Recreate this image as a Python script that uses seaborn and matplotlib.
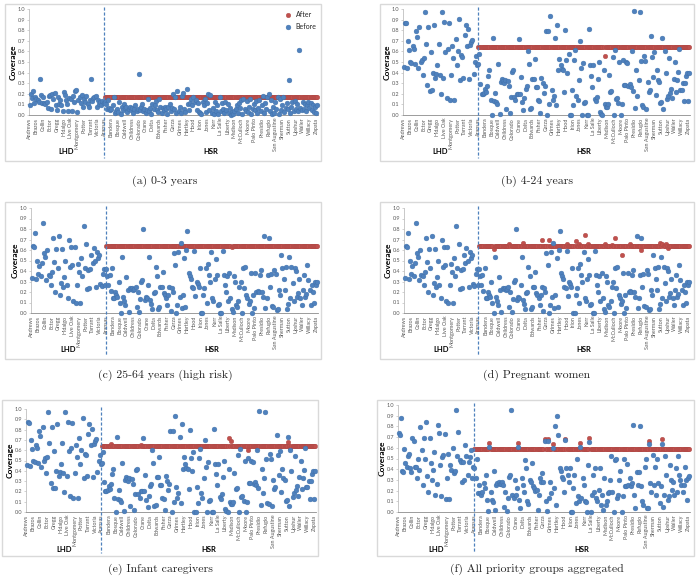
import numpy as np
import matplotlib
matplotlib.use("Agg")
import matplotlib.pyplot as plt
from matplotlib.patches import Rectangle
import seaborn as sns

# county axis: 66 LHD counties followed by 188 HSR counties, a label every 6th county
lhd_labels = ["Andrews", "Brazos", "Collin", "Ector", "Gregg", "Hidalgo", "Live Oak",
              "Montgomery", "Potter", "Tarrant", "Victoria"]
hsr_labels = ["Aransas", "Bandera", "Bosque", "Caldwell", "Childress", "Colorado", "Crane",
              "Delta", "Edwards", "Fisher", "Garza", "Grimes", "Hartley", "Hood", "Irion",
              "Jones", "Kerr", "La Salle", "Liberty", "Madison", "McCulloch", "Moore",
              "Palo Pinto", "Presidio", "Refugio", "San Augustine", "Sherman", "Sutton",
              "Upshur", "Waller", "Willacy", "Zapata"]
n_lhd = 66
n_hsr = 188

# --- coverage before reallocation ---
before_a_lhd = [0.09, 0.20, 0.16, 0.23, 0.11, 0.17, 0.15, 0.14, 0.12, 0.34, 0.19, 0.11,
                0.17, 0.11, 0.10, 0.12, 0.07, 0.18, 0.19, 0.06, 0.20, 0.15, 0.21, 0.09,
                0.05, 0.17, 0.10, 0.14, 0.09, 0.04, 0.22, 0.19, 0.14, 0.10, 0.04, 0.16,
                0.15, 0.04, 0.18, 0.12, 0.23, 0.24, 0.03, 0.14, 0.17, 0.11, 0.19, 0.08,
                0.15, 0.12, 0.18, 0.10, 0.08, 0.14, 0.34, 0.13, 0.16, 0.17, 0.18, 0.08,
                0.14, 0.10, 0.12, 0.09, 0.13, 0.11]
before_a_hsr = [0.12, 0.10, 0.06, 0.14, 0.07, 0.05, 0.06, 0.09, 0.17, 0.02, 0.04, 0.06,
                0.03, 0.12, 0.01, 0.08, 0.05, 0.10, 0.07, 0.08, 0.03, 0.06, 0.08, 0.05,
                0.07, 0.02, 0.06, 0.09, 0.04, 0.06, 0.39, 0.05, 0.08, 0.10, 0.04, 0.06,
                0.02, 0.05, 0.15, 0.04, 0.07, 0.01, 0.10, 0.06, 0.09, 0.13, 0.05, 0.03,
                0.15, 0.08, 0.02, 0.07, 0.05, 0.08, 0.06, 0.01, 0.08, 0.10, 0.04, 0.07,
                0.20, 0.06, 0.17, 0.02, 0.23, 0.04, 0.08, 0.02, 0.18, 0.21, 0.06, 0.03,
                0.25, 0.10, 0.05, 0.11, 0.15, 0.09, 0.17, 0.12, 0.14, 0.05, 0.11, 0.03,
                0.02, 0.01, 0.12, 0.09, 0.15, 0.03, 0.11, 0.20, 0.05, 0.19, 0.02, 0.07,
                0.01, 0.12, 0.04, 0.09, 0.01, 0.17, 0.04, 0.11, 0.06, 0.02, 0.12, 0.05,
                0.10, 0.02, 0.07, 0.00, 0.03, 0.01, 0.04, 0.06, 0.09, 0.02, 0.11, 0.07,
                0.14, 0.01, 0.15, 0.06, 0.04, 0.13, 0.03, 0.08, 0.15, 0.01, 0.06, 0.10,
                0.05, 0.13, 0.02, 0.07, 0.14, 0.04, 0.09, 0.18, 0.02, 0.11, 0.06, 0.17,
                0.20, 0.04, 0.14, 0.01, 0.08, 0.02, 0.12, 0.06, 0.17, 0.01, 0.15, 0.05,
                0.09, 0.17, 0.03, 0.07, 0.11, 0.06, 0.33, 0.02, 0.08, 0.12, 0.04, 0.13,
                0.06, 0.10, 0.04, 0.61, 0.07, 0.05, 0.12, 0.06, 0.10, 0.04, 0.09, 0.12,
                0.07, 0.11, 0.05, 0.09, 0.03, 0.08, 0.02, 0.09]

before_b_lhd = [0.455, 0.87, 0.865, 0.445, 0.70, 0.61, 0.50, 0.49, 0.65, 0.62, 0.48, 0.79,
                0.74, 0.44, 0.83, 0.50, 0.52, 0.38, 0.535, 0.97, 0.67, 0.28, 0.83, 0.23,
                0.59, 0.235, 0.40, 0.85, 0.35, 0.39, 0.47, 0.67, 0.38, 0.195, 0.97, 0.35,
                0.875, 0.59, 0.16, 0.62, 0.865, 0.14, 0.38, 0.65, 0.535, 0.14, 0.72, 0.47,
                0.60, 0.91, 0.33, 0.565, 0.55, 0.345, 0.755, 0.85, 0.65, 0.81, 0.34, 0.66,
                0.69, 0.71, 0.385, 0.50, 0.555, 0.47]
before_b_hsr = [0.48, 0.58, 0.29, 0.20, 0.20, 0.21, 0.25, 0.22, 0.27, 0.37, 0.42, 0.14,
                0.00, 0.73, 0.13, 0.21, 0.12, 0.10, 0.48, 0.01, 0.31, 0.34, 0.32, 0.30,
                0.33, 0.06, 0.32, 0.27, 0.02, 0.17, 0.41, 0.42, 0.17, 0.14, 0.20, 0.20,
                0.72, 0.20, 0.36, 0.12, 0.05, 0.16, 0.25, 0.27, 0.60, 0.48, 0.06, 0.07,
                0.34, 0.34, 0.53, 0.26, 0.26, 0.14, 0.13, 0.02, 0.35, 0.30, 0.21, 0.27,
                0.79, 0.00, 0.79, 0.10, 0.93, 0.24, 0.14, 0.18, 0.73, 0.09, 0.85, 0.42,
                0.53, 0.47, 0.43, 0.42, 0.22, 0.80, 0.52, 0.40, 0.58, 0.00, 0.00, 0.24,
                0.09, 0.52, 0.61, 0.18, 0.14, 0.33, 0.70, 0.44, 0.00, 0.49, 0.11, 0.12,
                0.00, 0.00, 0.81, 0.47, 0.37, 0.26, 0.47, 0.15, 0.13, 0.17, 0.34, 0.50,
                0.03, 0.01, 0.00, 0.42, 0.10, 0.08, 0.08, 0.10, 0.38, 0.22, 0.23, 0.55,
                0.00, 0.61, 0.15, 0.16, 0.11, 0.50, 0.00, 0.10, 0.52, 0.28, 0.28, 0.50,
                0.49, 0.27, 0.29, 0.26, 0.60, 0.23, 0.98, 0.07, 0.42, 0.18, 0.33, 0.97,
                0.51, 0.09, 0.08, 0.56, 0.51, 0.06, 0.31, 0.22, 0.24, 0.75, 0.55, 0.36,
                0.59, 0.19, 0.42, 0.33, 0.31, 0.11, 0.12, 0.73, 0.06, 0.60, 0.40, 0.15,
                0.18, 0.54, 0.21, 0.25, 0.16, 0.34, 0.50, 0.22, 0.33, 0.41, 0.62, 0.24,
                0.24, 0.30, 0.13, 0.30, 0.37, 0.40, 0.13, 0.40]

before_c_lhd = [0.33, 0.64, 0.63, 0.76, 0.32, 0.50, 0.37, 0.45, 0.35, 0.48, 0.86, 0.57,
                0.53, 0.31, 0.60, 0.36, 0.35, 0.27, 0.39, 0.71, 0.49, 0.20, 0.61, 0.43,
                0.73, 0.17, 0.29, 0.61, 0.25, 0.34, 0.50, 0.27, 0.14, 0.70, 0.44, 0.63,
                0.46, 0.11, 0.63, 0.10, 0.27, 0.47, 0.39, 0.10, 0.52, 0.35, 0.83, 0.43,
                0.66, 0.23, 0.41, 0.24, 0.42, 0.55, 0.48, 0.62, 0.50, 0.25, 0.58, 0.52,
                0.55, 0.28, 0.26, 0.37, 0.42, 0.27]
before_c_hsr = [0.42, 0.35, 0.27, 0.36, 0.21, 0.43, 0.14, 0.14, 0.20, 0.17, 0.15, 0.30,
                0.10, 0.00, 0.53, 0.15, 0.11, 0.08, 0.34, 0.22, 0.01, 0.24, 0.23, 0.24,
                0.22, 0.23, 0.25, 0.06, 0.20, 0.01, 0.13, 0.30, 0.31, 0.80, 0.12, 0.15,
                0.14, 0.27, 0.53, 0.12, 0.09, 0.04, 0.19, 0.20, 0.44, 0.35, 0.04, 0.06,
                0.25, 0.25, 0.39, 0.19, 0.17, 0.14, 0.08, 0.17, 0.25, 0.02, 0.24, 0.20,
                0.57, 0.46, 0.00, 0.08, 0.58, 0.15, 0.67, 0.05, 0.17, 0.52, 0.06, 0.60,
                0.78, 0.38, 0.35, 0.32, 0.25, 0.24, 0.59, 0.16, 0.30, 0.28, 0.25, 0.43,
                0.00, 0.00, 0.17, 0.24, 0.43, 0.10, 0.47, 0.36, 0.30, 0.58, 0.14, 0.11,
                0.32, 0.51, 0.36, 0.08, 0.09, 0.00, 0.00, 0.59, 0.36, 0.27, 0.20, 0.35,
                0.11, 0.38, 0.14, 0.04, 0.01, 0.35, 0.30, 0.08, 0.06, 0.11, 0.25, 0.30,
                0.00, 0.43, 0.24, 0.44, 0.17, 0.14, 0.09, 0.11, 0.38, 0.00, 0.17, 0.05,
                0.38, 0.20, 0.21, 0.20, 0.36, 0.41, 0.20, 0.15, 0.73, 0.05, 0.14, 0.36,
                0.71, 0.25, 0.37, 0.07, 0.06, 0.41, 0.37, 0.03, 0.04, 0.22, 0.17, 0.55,
                0.43, 0.32, 0.22, 0.44, 0.04, 0.09, 0.53, 0.14, 0.44, 0.29, 0.11, 0.43,
                0.40, 0.15, 0.19, 0.32, 0.14, 0.08, 0.22, 0.36, 0.15, 0.18, 0.46, 0.31,
                0.22, 0.08, 0.27, 0.20, 0.10, 0.30, 0.27, 0.30]

before_f_lhd = [0.735, 0.715, 0.875, 0.38, 0.37, 0.59, 0.455, 0.425, 0.52, 0.54, 0.415, 0.37,
                0.69, 0.66, 0.425, 0.425, 0.32, 0.50, 0.395, 0.79, 0.58, 0.255, 0.69, 0.50,
                0.845, 0.34, 0.19, 0.69, 0.455, 0.30, 0.395, 0.565, 0.16, 0.26, 0.81, 0.735,
                0.44, 0.145, 0.51, 0.535, 0.73, 0.12, 0.32, 0.54, 0.12, 0.44, 0.395, 0.60,
                0.36, 0.385, 0.955, 0.52, 0.75, 0.49, 0.47, 0.285, 0.47, 0.30, 0.63, 0.52,
                0.35, 0.47, 0.51, 0.58, 0.32, 0.425]
before_f_hsr = [0.41, 0.32, 0.50, 0.18, 0.255, 0.18, 0.16, 0.19, 0.27, 0.22, 0.35, 0.115,
                0.005, 0.61, 0.185, 0.115, 0.095, 0.38, 0.02, 0.255, 0.27, 0.285, 0.26, 0.26,
                0.28, 0.255, 0.05, 0.19, 0.01, 0.135, 0.33, 0.35, 0.955, 0.16, 0.13, 0.30,
                0.16, 0.22, 0.61, 0.115, 0.04, 0.32, 0.255, 0.19, 0.49, 0.41, 0.10, 0.075,
                0.30, 0.28, 0.46, 0.24, 0.22, 0.20, 0.21, 0.02, 0.16, 0.32, 0.285, 0.36,
                0.285, 0.66, 0.10, 0.005, 0.66, 0.13, 0.28, 0.18, 0.60, 0.22, 0.80, 0.07,
                0.90, 0.72, 0.415, 0.38, 0.33, 0.31, 0.19, 0.67, 0.415, 0.35, 0.285, 0.41,
                0.00, 0.00, 0.22, 0.35, 0.085, 0.50, 0.145, 0.10, 0.61, 0.13, 0.32, 0.255,
                0.10, 0.095, 0.00, 0.44, 0.65, 0.00, 0.16, 0.35, 0.19, 0.41, 0.13, 0.10,
                0.21, 0.41, 0.07, 0.16, 0.02, 0.32, 0.07, 0.10, 0.18, 0.19, 0.30, 0.52,
                0.19, 0.00, 0.49, 0.50, 0.13, 0.16, 0.30, 0.38, 0.00, 0.145, 0.50, 0.24,
                0.24, 0.45, 0.255, 0.32, 0.24, 0.27, 0.81, 0.16, 0.04, 0.37, 0.255, 0.37,
                0.805, 0.24, 0.105, 0.07, 0.425, 0.50, 0.04, 0.04, 0.64, 0.27, 0.19, 0.535,
                0.255, 0.425, 0.16, 0.50, 0.27, 0.085, 0.24, 0.635, 0.05, 0.16, 0.52, 0.35,
                0.115, 0.145, 0.44, 0.30, 0.21, 0.285, 0.16, 0.41, 0.19, 0.52, 0.35, 0.30,
                0.25, 0.19, 0.25, 0.42, 0.30, 0.11, 0.32, 0.34]

# --- coverage after reallocation (HSR counties): common level + counties off that level ---
after_level = {"a": 0.167, "b": 0.645, "c": 0.64, "d": 0.64, "e": 0.645, "f": 0.59}
after_dev = {
    "a": {},
    "b": {178: 0.555},
    "c": {177: 0.625},
    "d": {79: 0.605, 93: 0.655, 105: 0.665, 122: 0.70, 128: 0.70, 144: 0.66, 152: 0.69,
          155: 0.66, 160: 0.745, 163: 0.655, 178: 0.655, 184: 0.65, 187: 0.715,
          193: 0.555, 200: 0.655, 210: 0.60, 227: 0.665, 229: 0.66, 232: 0.655, 234: 0.62},
    "e": {74: 0.66, 100: 0.655, 177: 0.715, 179: 0.685, 194: 0.60, 229: 0.675, 231: 0.62},
    "f": {79: 0.645, 104: 0.645, 127: 0.685, 130: 0.685, 134: 0.64, 145: 0.685,
          158: 0.645, 166: 0.69, 218: 0.665, 229: 0.68},
}

captions = {"a": "(a) 0-3 years", "b": "(b) 4-24 years", "c": "(c) 25-64 years (high risk)",
            "d": "(d) Pregnant women", "e": "(e) Infant caregivers",
            "f": "(f) All priority groups aggregated"}
before = {"a": (before_a_lhd, before_a_hsr), "b": (before_b_lhd, before_b_hsr),
          "c": (before_c_lhd, before_c_hsr), "d": (before_c_lhd, before_c_hsr),
          "e": (before_b_lhd, before_b_hsr), "f": (before_f_lhd, before_f_hsr)}

# pixel geometry: chart box, plot area, caption centre
W, H = 700, 585
layout = {
    "a": ((5, 4, 321, 161), (29, 9, 318, 115), (165, 181)),
    "b": ((380, 4, 694, 161), (403, 9, 690, 115), (537, 181)),
    "c": ((5, 202, 321, 359), (31, 208, 318, 313), (165, 375)),
    "d": ((380, 202, 694, 359), (404, 208, 690, 313), (537, 375)),
    "e": ((2, 400, 318, 556), (26, 409, 316, 512), (160, 569)),
    "f": ((377, 400, 694, 556), (398, 405, 690, 512), (537, 569)),
}

BLUE = "#4f81bd"
RED = "#c0504d"
GREY = "#595959"

sns.set_style("white")
plt.rcParams["font.family"] = ["Lato", "DejaVu Sans"]

fig = plt.figure(figsize=(7, 5.85), dpi=100)

x_all = np.arange(n_lhd + n_hsr)
x_hsr = np.arange(n_lhd, n_lhd + n_hsr)
tick_pos = [6 * i for i in range(len(lhd_labels))] + [n_lhd + 6 * i for i in range(len(hsr_labels))]
tick_lab = lhd_labels + hsr_labels

for key in ["a", "b", "c", "d", "e", "f"]:
    box, area, cap = layout[key]
    bx0, by0, bx1, by1 = box
    fig.add_artist(Rectangle((bx0 / W, 1 - by1 / H), (bx1 - bx0) / W, (by1 - by0) / H,
                             transform=fig.transFigure, fill=False,
                             edgecolor="#d9d9d9", linewidth=1.0))
    ax0, ay0, ax1, ay1 = area
    ax = fig.add_axes([ax0 / W, 1 - ay1 / H, (ax1 - ax0) / W, (ay1 - ay0) / H])
    ah = ay1 - ay0

    lhd, hsr = before[key]
    after_vals = [after_dev[key].get(int(i), after_level[key]) for i in x_hsr]

    sns.scatterplot(x=x_hsr, y=after_vals, ax=ax, color=RED, s=11, edgecolor="#a94542",
                    linewidth=0.25, label="After", zorder=2, clip_on=False, legend=False)
    sns.scatterplot(x=x_all, y=lhd + hsr, ax=ax, color=BLUE, s=12, edgecolor="#3f6fa8",
                    linewidth=0.3, label="Before", zorder=3, clip_on=False, legend=False)

    ax.set_xlim(-0.5, n_lhd + n_hsr - 0.5)
    ax.set_ylim(0, 1.0)
    ax.set_yticks(np.round(np.arange(0, 1.01, 0.1), 1))
    ax.set_yticklabels([f"{v:.1f}" for v in np.arange(0, 1.01, 0.1)])
    ax.set_xticks(tick_pos)
    ax.set_xticklabels(tick_lab, rotation=90)
    ax.tick_params(axis="y", labelsize=4.0, labelcolor=GREY, length=1.5, width=0.5,
                   color="#bfbfbf", pad=1.0, left=True)
    ax.tick_params(axis="x", labelsize=3.9, labelcolor=GREY, length=0, pad=2)
    ax.set_xlabel("")
    ax.set_ylabel("Coverage", fontsize=6, fontweight="bold", color="black", labelpad=1)
    for side in ["top", "right"]:
        ax.spines[side].set_visible(False)
    ax.spines["left"].set_color("#bfbfbf")
    ax.spines["bottom"].set_color("#8c8c8c")
    ax.spines["left"].set_linewidth(0.6)
    ax.spines["bottom"].set_linewidth(0.6)

    # LHD / HSR divider and group names
    tr = ax.get_xaxis_transform()
    y_bot = -(by1 - 3 - ay1) / ah
    ax.plot([n_lhd - 0.5, n_lhd - 0.5], [1 + 2 / ah, y_bot], transform=tr, color=BLUE,
            linestyle=(0, (2.5, 1.5)), linewidth=0.9, clip_on=False, zorder=4)
    y_grp = -37 / ah
    ax.text((n_lhd - 1) / 2, y_grp, "LHD", transform=tr, ha="center", va="center",
            fontsize=5.5, fontweight="bold", color="black")
    ax.text(n_lhd + (n_hsr - 1) / 2, y_grp, "HSR", transform=tr, ha="center", va="center",
            fontsize=5.5, fontweight="bold", color="black")

    if key == "a":
        ax.legend(loc="upper right", bbox_to_anchor=(1.01, 1.02), frameon=False,
                  fontsize=5, handletextpad=0.1, labelspacing=0.7, borderaxespad=0.2,
                  markerscale=1.0)

    fig.text(cap[0] / W, 1 - cap[1] / H, captions[key], ha="center", va="center",
             fontsize=8.5, family="cmr10")

fig.savefig("out.png", dpi=100)
